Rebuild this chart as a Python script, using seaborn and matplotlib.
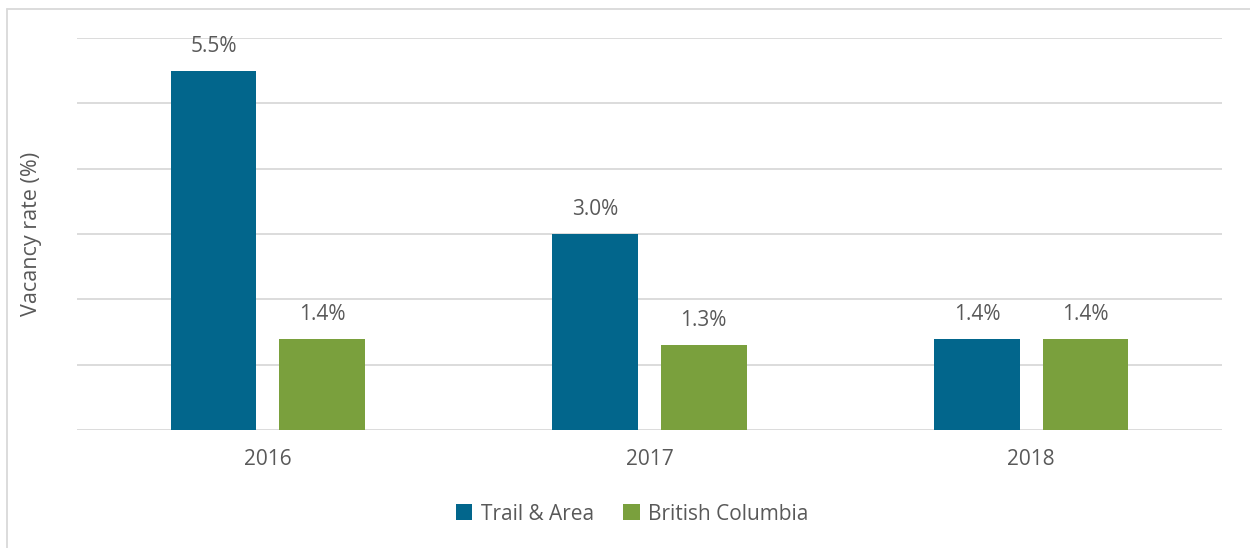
import matplotlib
matplotlib.use("Agg")
import matplotlib.pyplot as plt
import seaborn as sns
import pandas as pd
from matplotlib.patches import Patch
from matplotlib.lines import Line2D

years = ["2016", "2017", "2018"]
series = ["Trail & Area", "British Columbia"]
trail = [5.5, 3.0, 1.4]
bc = [1.4, 1.3, 1.4]
colors = ["#02668C", "#7AA03D"]

df = pd.DataFrame({
    "year": years * 2,
    "series": [series[0]] * 3 + [series[1]] * 3,
    "value": trail + bc,
})

sns.set_theme(style="white")
plt.rcParams["font.family"] = ["Open Sans", "DejaVu Sans"]
txt = "#595959"

fig = plt.figure(figsize=(12.5, 5.48), dpi=100)
ax = fig.add_axes([77 / 1250, 1 - 430 / 548, (1222 - 77) / 1250, (430 - 38) / 548])

sns.barplot(data=df, x="year", y="value", hue="series", order=years,
            hue_order=series, palette=colors, width=0.568, gap=0.21,
            saturation=1, ax=ax, legend=False, errorbar=None, linewidth=0)

ax.set_xlim(-0.5, 2.5)
ax.set_ylim(0, 6)
ax.set_yticks([0, 1, 2, 3, 4, 5, 6])
ax.set_yticklabels([])
ax.tick_params(axis="y", length=0)
ax.tick_params(axis="x", length=0, labelsize=15, labelcolor=txt, pad=14)
ax.yaxis.grid(True, color="#D9D9D9", linewidth=1.3)
ax.set_axisbelow(True)
for s in ax.spines.values():
    s.set_visible(False)
ax.set_xlabel("")
ax.set_ylabel("Vacancy rate (%)", fontsize=15.5, color=txt, labelpad=22)

for cont in ax.containers:
    labels = [f"{b.get_height():.1f}%" for b in cont]
    ax.bar_label(cont, labels=labels, padding=10, fontsize=15, color=txt)

handles = [Patch(facecolor=c, edgecolor="none") for c in colors]
fig.legend(handles, series, loc="center", bbox_to_anchor=(632 / 1250, 1 - 514 / 548),
           ncol=2, frameon=False, fontsize=15, labelcolor=txt,
           handlelength=0.8, handleheight=0.8, handletextpad=0.4, columnspacing=1.4)

# outer chart frame
fig.add_artist(Line2D([7 / 1250, 7 / 1250], [0, 1 - 9 / 548], transform=fig.transFigure,
                      color="#D9D9D9", linewidth=1.3))
fig.add_artist(Line2D([7 / 1250, 1], [1 - 9 / 548, 1 - 9 / 548], transform=fig.transFigure,
                      color="#D9D9D9", linewidth=1.3))

fig.savefig("out.png", dpi=100)
